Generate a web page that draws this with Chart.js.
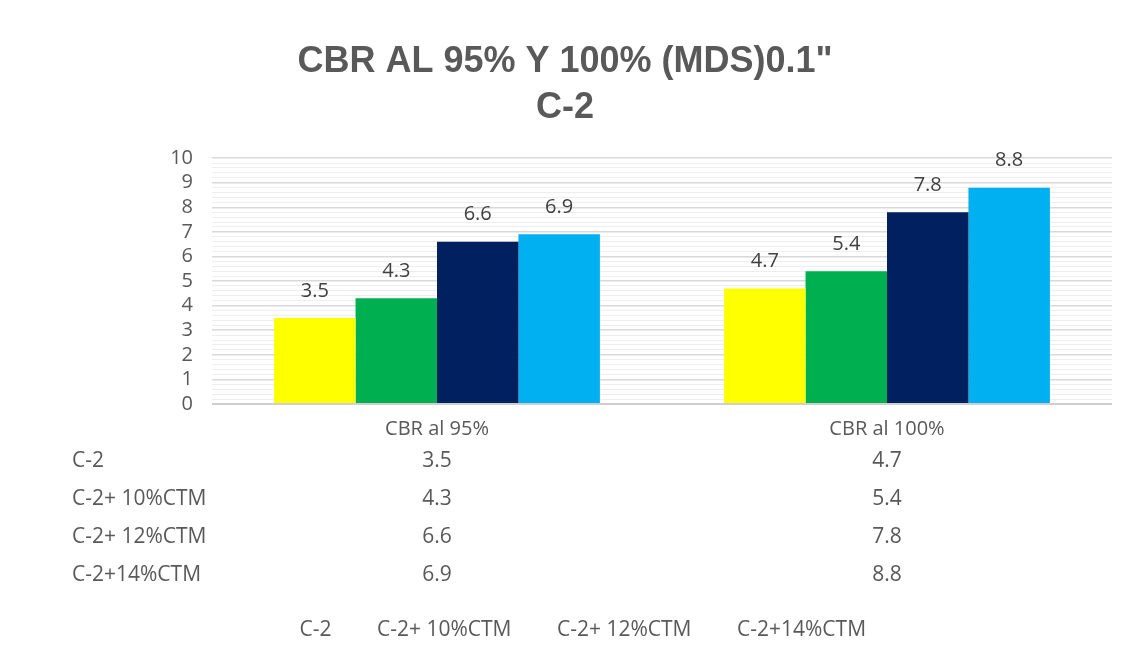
<!DOCTYPE html>
<html>
<head>
<meta charset="utf-8">
<script src="https://cdn.jsdelivr.net/npm/chart.js@4"></script>
<style>
  html, body { margin: 0; padding: 0; background: #ffffff; }
  #wrap { width: 1129px; height: 660px; }
</style>
</head>
<body>
<div id="wrap"><canvas id="c" width="1129" height="660"></canvas></div>
<script>
// Categories and series
const categories = ['CBR al 95%', 'CBR al 100%'];
const seriesNames = ['C-2', 'C-2+ 10%CTM', 'C-2+ 12%CTM', 'C-2+14%CTM'];
const c2 = [3.5, 4.7];
const c2ctm10 = [4.3, 5.4];
const c2ctm12 = [6.6, 7.8];
const c2ctm14 = [6.9, 8.8];
const seriesColors = ['#FFFF00', '#00B050', '#002060', '#00B0F0'];
const titleLines = ['CBR AL 95% Y 100% (MDS)0.1"', 'C-2'];

const seriesValues = [c2, c2ctm10, c2ctm12, c2ctm14];
const TEXT = '#595959';
const FONT = "'Open Sans', 'Noto Sans', sans-serif";

Chart.defaults.font.family = FONT;
Chart.defaults.font.size = 20;
Chart.defaults.color = TEXT;

// Value labels above each bar
const barValueLabels = {
  id: 'barValueLabels',
  afterDatasetsDraw(chart) {
    const ctx = chart.ctx;
    ctx.save();
    ctx.font = '20px ' + FONT;
    ctx.fillStyle = '#404040';
    ctx.textAlign = 'center';
    ctx.textBaseline = 'middle';
    chart.data.datasets.forEach((ds, di) => {
      chart.getDatasetMeta(di).data.forEach((el, i) => {
        ctx.fillText(String(ds.data[i]), el.x, el.y - 27);
      });
    });
    ctx.restore();
  }
};

// Data table under the category axis
const dataTable = {
  id: 'dataTable',
  afterDraw(chart) {
    const ctx = chart.ctx;
    const x = chart.scales.x;
    ctx.save();
    ctx.font = '21px ' + FONT;
    ctx.fillStyle = TEXT;
    ctx.textBaseline = 'middle';
    const rowTop = chart.chartArea.bottom + 57;
    const rowH = 38;
    seriesNames.forEach((name, r) => {
      const y = rowTop + r * rowH;
      ctx.textAlign = 'left';
      ctx.fillText(name, 72, y);
      ctx.textAlign = 'center';
      seriesValues[r].forEach((v, i) => {
        ctx.fillText(String(v), x.getPixelForValue(i), y);
      });
    });
    ctx.restore();
  }
};

new Chart(document.getElementById('c'), {
  type: 'bar',
  data: {
    labels: categories,
    datasets: seriesNames.map((name, i) => ({
      label: name,
      data: seriesValues[i],
      backgroundColor: seriesColors[i],
      borderWidth: 0,
      categoryPercentage: 0.724,
      barPercentage: 1.0
    }))
  },
  options: {
    responsive: false,
    animation: false,
    layout: { padding: { top: 0, right: 17, bottom: 9, left: 18 } },
    plugins: {
      title: {
        display: true,
        text: titleLines,
        color: TEXT,
        font: { family: "'Liberation Sans', Arial, sans-serif", size: 36, weight: 'bold', lineHeight: 1.28 },
        padding: { top: 39, bottom: 27 }
      },
      legend: {
        position: 'bottom',
        labels: {
          color: TEXT,
          font: { size: 21 },
          boxWidth: 25,
          padding: 10,
          generateLabels(chart) {
            return chart.data.datasets.map((ds, i) => ({
              text: ds.label,
              fillStyle: 'rgba(0,0,0,0)',
              strokeStyle: 'rgba(0,0,0,0)',
              lineWidth: 0,
              hidden: false,
              datasetIndex: i,
              fontColor: TEXT
            }));
          }
        }
      },
      tooltip: { enabled: false }
    },
    scales: {
      x: {
        grid: { display: false },
        border: { display: false },
        ticks: { color: TEXT, padding: 5, font: { size: 20 } },
        afterFit(scale) { scale.height = 206; }
      },
      y: {
        min: 0,
        max: 10,
        border: { display: false },
        grid: {
          drawTicks: false,
          color(ctx) {
            const v = ctx.tick ? ctx.tick.value : 0;
            if (Math.abs(v) < 1e-6) return '#cfcfcf';
            return Math.abs(v - Math.round(v)) < 1e-6 ? '#d9d9d9' : '#eeeeee';
          },
          lineWidth(ctx) {
            const v = ctx.tick ? ctx.tick.value : 0;
            if (Math.abs(v) < 1e-6) return 2;
            return Math.abs(v - Math.round(v)) < 1e-6 ? 1.5 : 1;
          }
        },
        ticks: {
          stepSize: 0.2,
          autoSkip: false,
          color: TEXT,
          padding: 19,
          font: { size: 20 },
          callback(v) {
            return Math.abs(v - Math.round(v)) < 1e-6 ? String(Math.round(v)) : '';
          }
        },
        afterFit(scale) { scale.width = 194; }
      }
    }
  },
  plugins: [barValueLabels, dataTable]
});
</script>
</body>
</html>
